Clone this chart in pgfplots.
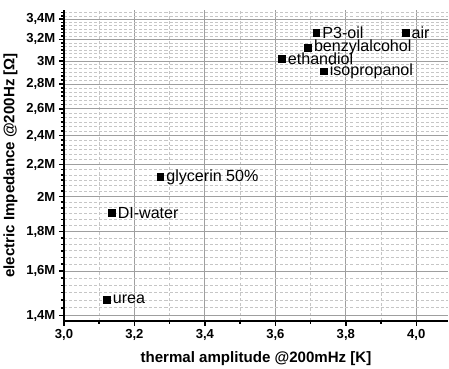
\documentclass[border=0pt]{standalone}
\usepackage{fontspec}
\setmainfont{Liberation Sans}
\usepackage{pgfplots}
\pgfplotsset{compat=1.18}
\begin{document}
\begin{tikzpicture}
\begin{axis}[
  scale only axis, width=382pt, height=309pt,
  xmin=3.0, xmax=4.09, ymode=log, ymin=1.379, ymax=3.494,
  axis x line*=bottom, axis y line*=left,
  axis line style={line width=2pt, black},
  xtick={3.0,3.2,3.4,3.6,3.8,4.0},
  xticklabels={{3,0},{3,2},{3,4},{3,6},{3,8},{4,0}},
  minor xtick={3.1,3.3,3.5,3.7,3.9},
  ytick={1.4,1.6,1.8,2.0,2.2,2.4,2.6,2.8,3.0,3.2,3.4},
  yticklabels={{1,4M},{1,6M},{1,8M},{2M},{2,2M},{2,4M},{2,6M},{2,8M},{3M},{3,2M},{3,4M}},
  minor ytick={1.4,1.43333,...,3.48},
  tick align=outside, major tick length=5pt, minor tick length=3pt,
  every tick/.style={black, line width=1.5pt},
  grid=both,
  major grid style={gray!75, line width=0.9pt},
  minor grid style={gray!45, densely dashed, line width=0.7pt},
  tick label style={font=\fontsize{13}{13}\selectfont\bfseries},
  xlabel={thermal amplitude @200mHz [K]},
  ylabel={electric Impedance @200Hz [Ω]},
  label style={font=\fontsize{15}{15}\selectfont\bfseries},
  xlabel style={yshift=-4pt},
  ylabel style={yshift=2pt},
  clip=false,
]
\addplot[only marks, mark=square*, mark size=3.4pt, black,
  point meta=explicit symbolic,
  nodes near coords,
  every node near coord/.style={anchor=west, xshift=5pt, font=\fontsize{16}{16}\selectfont, text=black, inner sep=1pt}]
  table[meta=label] {
x y label
3.969 3.266 air
3.716 3.262 P3-oil
3.692 3.124 benzylalcohol
3.618 3.018 ethandiol
3.737 2.910 isopropanol
3.273 2.120 {glycerin 50\%}
3.135 1.905 DI-water
3.121 1.469 urea
};
\end{axis}
\path ([yshift=10pt]current axis.north) -- ([yshift=-6pt]current axis.south);
\end{tikzpicture}
\end{document}
